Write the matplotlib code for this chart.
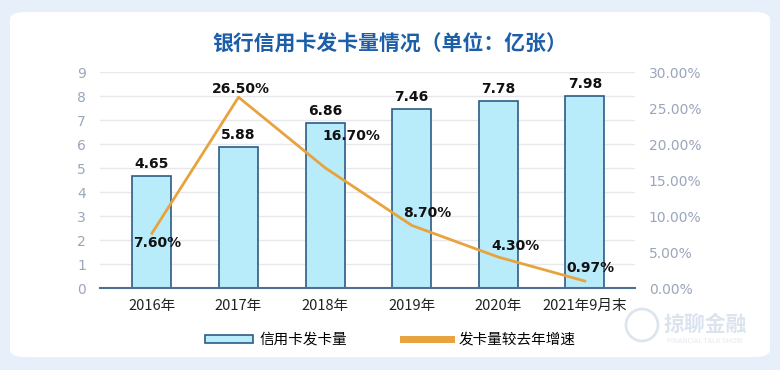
import matplotlib.pyplot as plt
from matplotlib.patches import FancyBboxPatch, Patch, Circle
from matplotlib.lines import Line2D
import numpy as np

plt.rcParams['font.family'] = ['Noto Sans CJK SC', 'DejaVu Sans']

# data
years = ['2016年', '2017年', '2018年', '2019年', '2020年', '2021年9月末']
cards = [4.65, 5.88, 6.86, 7.46, 7.78, 7.98]          # 亿张
growth = [7.60, 26.50, 16.70, 8.70, 4.30, 0.97]       # %
growth_labels = ['7.60%', '26.50%', '16.70%', '8.70%', '4.30%', '0.97%']
# label offsets (pixels) for the growth labels
growth_offsets = [(5, -10), (2, 8), (26, 32), (16, 12), (17, 11), (6, 13)]

bar_fill = '#b9ecfb'
bar_edge = '#2d5b86'
line_col = '#e8a23e'
tick_col = '#9aa6bb'
num_font = ['DejaVu Sans']

fig = plt.figure(figsize=(7.8, 3.7), dpi=100)
fig.patch.set_facecolor('#e7effa')

# white rounded panel (behind everything)
panel = FancyBboxPatch((10 / 780, 1 - 357 / 370), 760 / 780, 345 / 370,
                       boxstyle='round,pad=0,rounding_size=0.02',
                       transform=fig.transFigure, facecolor='white',
                       edgecolor='none', zorder=-10)
fig.patches.append(panel)

fig.text(0.5, 1 - 43 / 370, '银行信用卡发卡量情况（单位：亿张）', ha='center', va='center',
         fontsize=15, fontweight='bold', color='#1c5ea8')

ax = fig.add_axes([100 / 780, 1 - 288 / 370, 535 / 780, 216 / 370])
ax.set_facecolor('none')
x = np.arange(len(years))

ax.bar(x, cards, width=0.45, color=bar_fill, edgecolor=bar_edge, linewidth=1.2, zorder=2)
for xi, v in zip(x, cards):
    ax.annotate(f'{v:.2f}', (xi, v), xytext=(0, 12), textcoords='offset pixels',
                ha='center', va='center', fontsize=10, fontweight='bold',
                color='#111111', family=num_font)

ax.set_xlim(-0.6, 5.58)
ax.set_ylim(0, 9)
ax.set_yticks(range(0, 10))
ax.set_xticks(x)
ax.set_xticklabels(years, fontsize=10.5, color='#222222')
ax.tick_params(axis='x', length=0, pad=8)
ax.tick_params(axis='y', length=0, labelsize=10, labelcolor=tick_col, pad=10)
for t in ax.get_yticklabels():
    t.set_family(num_font)
ax.grid(axis='y', color='#e6e8ec', linewidth=1, zorder=0)
for s in ['top', 'right', 'left']:
    ax.spines[s].set_visible(False)
ax.spines['bottom'].set_color('#4d6f95')
ax.spines['bottom'].set_linewidth(1.5)
ax.spines['bottom'].set_zorder(5)

ax2 = ax.twinx()
ax2.set_ylim(0, 30)
ax2.set_yticks(range(0, 31, 5))
ax2.set_yticklabels([f'{t:.2f}%' for t in range(0, 31, 5)], family=num_font)
ax2.tick_params(axis='y', length=0, labelsize=10, labelcolor=tick_col, pad=10)
for s in ax2.spines.values():
    s.set_visible(False)
ax2.plot(x, growth, color=line_col, linewidth=2, zorder=3)
for xi, v, lab, (dx, dy) in zip(x, growth, growth_labels, growth_offsets):
    ax2.annotate(lab, (xi, v), xytext=(dx, dy), textcoords='offset pixels',
                 ha='center', va='center', fontsize=10, fontweight='bold',
                 color='#111111', family=num_font)

# legend
handles = [Patch(facecolor=bar_fill, edgecolor=bar_edge, linewidth=1.2),
           Line2D([0], [0], color=line_col, linewidth=5)]
fig.legend(handles, ['信用卡发卡量', '发卡量较去年增速'], loc='center',
           bbox_to_anchor=(390 / 780, 1 - 340 / 370), ncol=2, frameon=False,
           fontsize=10.5, handlelength=3.3, handleheight=0.45, columnspacing=3.8,
           handletextpad=0.5)

# watermark
fig.patches.append(Circle((6.42, (370 - 325) / 100), 0.16, transform=fig.dpi_scale_trans,
                          facecolor='none', edgecolor='#dfe5ee', linewidth=2, zorder=-5))
fig.text(705 / 780, 1 - 324 / 370, '掠聊金融', ha='center', va='center', fontsize=15,
         fontweight='bold', color='#dbe3ee', zorder=-5)
fig.text(705 / 780, 1 - 341 / 370, 'FINANCIAL TALK SHOW', ha='center', va='center',
         fontsize=5, color='#e3e8ef', zorder=-5)

fig.savefig('out.png', dpi=100, facecolor=fig.get_facecolor())
